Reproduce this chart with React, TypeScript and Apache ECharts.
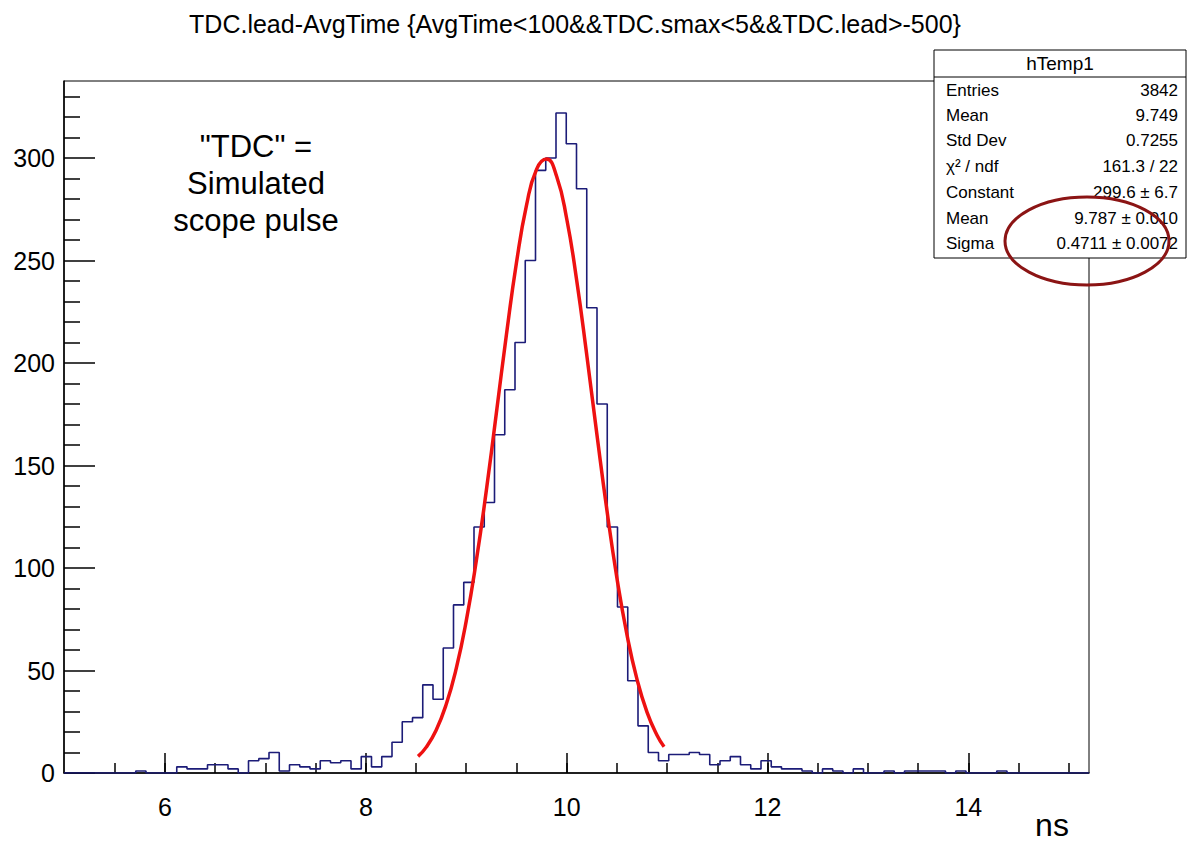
import React, { useEffect, useRef } from "react";
import * as echarts from "echarts";

// ---- data ----
const X_MIN = 4.994;
const X_MAX = 15.202;
const Y_MAX = 337.6;
const N_BINS = 100;

// histogram counts, 100 bins from X_MIN to X_MAX
const counts = [
  0, 0, 0, 0, 0, 0, 0, 1, 0, 0,
  0, 3, 2, 2, 4, 4, 2, 0, 6, 7,
  10, 1, 4, 3, 2, 6, 5, 6, 2, 8,
  3, 8, 15, 25, 27, 43, 36, 61, 82, 93,
  120, 132, 165, 187, 210, 250, 294, 300, 322, 307,
  285, 227, 180, 120, 81, 45, 23, 10, 6, 9,
  9, 10, 9, 4, 6, 8, 4, 2, 6, 3,
  2, 2, 1, 0, 2, 1, 0, 2, 0, 0,
  1, 0, 1, 1, 1, 1, 0, 1, 0, 0,
  0, 1, 0, 0, 0, 0, 0, 0, 0, 0,
];

// gaussian fit curve
const fitX = [8.52, 8.6, 8.7, 8.8, 8.9, 9.0, 9.1, 9.2, 9.3, 9.4, 9.5, 9.6, 9.7, 9.8, 9.9, 10.0, 10.1, 10.2, 10.3, 10.4, 10.5, 10.6, 10.7, 10.8, 10.9, 10.97];
const fitY = [8.1, 12.5, 20.9, 33.4, 50.9, 74.2, 103.5, 137.8, 175.6, 213.8, 248.9, 276.9, 294.5, 299.5, 291.1, 270.5, 240.3, 204.0, 165.6, 128.5, 95.3, 67.6, 45.8, 29.7, 18.4, 12.8];

const xMajorTicks = [6, 8, 10, 12, 14];
const xMinorTicks = [5.5, 6, 6.5, 7, 7.5, 8, 8.5, 9, 9.5, 10, 10.5, 11, 11.5, 12, 12.5, 13, 13.5, 14, 14.5, 15];
const yMajorTicks = [0, 50, 100, 150, 200, 250, 300];
const yMinorTicks = [10, 20, 30, 40, 60, 70, 80, 90, 110, 120, 130, 140, 160, 170, 180, 190, 210, 220, 230, 240, 260, 270, 280, 290, 310, 320, 330];

const titleText = "TDC.lead-AvgTime {AvgTime<100&&TDC.smax<5&&TDC.lead>-500}";
const statsTitle = "hTemp1";
const statsLabels = ["Entries", "Mean", "Std Dev", "χ² / ndf", "Constant", "Mean", "Sigma"];
const statsValues = ["3842", "9.749", "0.7255", "161.3 / 22", "299.6 ± 6.7", "9.787 ± 0.010", "0.4711 ± 0.0072"];
const noteLines = ['"TDC" =', "Simulated", "scope pulse"];
const xUnit = "ns";

const FONT = "'Liberation Sans', Arial, Helvetica, sans-serif";

export default function App() {
  const ref = useRef<HTMLDivElement>(null);

  useEffect(() => {
    if (!ref.current) return;
    const chart = echarts.init(ref.current, undefined, { renderer: "svg" });

    const binW = (X_MAX - X_MIN) / N_BINS;
    const histData: number[][] = counts.map((c, k) => [X_MIN + k * binW, c]);
    histData.push([X_MAX, counts[counts.length - 1]]);
    const fitData = fitX.map((x, i) => [x, fitY[i]]);

    const axisLineStyle = { color: "#000", width: 1.5 };

    const statsTop = 50;
    const statsLeft = 934;
    const statsW = 252;
    const statsH = 208;
    const rowY = [90, 115, 140, 166, 192, 218, 243];

    const graphics: any[] = [
      {
        type: "text",
        x: 575,
        y: 24,
        style: {
          text: titleText,
          font: `25px ${FONT}`,
          fill: "#000",
          textAlign: "center",
          textVerticalAlign: "middle",
        },
      },
      {
        type: "rect",
        z: 100,
        shape: { x: statsLeft, y: statsTop, width: statsW, height: statsH },
        style: { fill: "#fff", stroke: "#000", lineWidth: 1 },
      },
      {
        type: "line",
        z: 101,
        shape: { x1: statsLeft, y1: 77, x2: statsLeft + statsW, y2: 77 },
        style: { stroke: "#000", lineWidth: 1 },
      },
      {
        type: "text",
        z: 101,
        x: statsLeft + statsW / 2,
        y: 63,
        style: {
          text: statsTitle,
          font: `19px ${FONT}`,
          fill: "#000",
          textAlign: "center",
          textVerticalAlign: "middle",
        },
      },
    ];
    statsLabels.forEach((lab, i) => {
      graphics.push({
        type: "text",
        z: 101,
        x: 946,
        y: rowY[i],
        style: { text: lab, font: `17px ${FONT}`, fill: "#000", textAlign: "left", textVerticalAlign: "middle" },
      });
      graphics.push({
        type: "text",
        z: 101,
        x: 1178,
        y: rowY[i],
        style: { text: statsValues[i], font: `17px ${FONT}`, fill: "#000", textAlign: "right", textVerticalAlign: "middle" },
      });
    });
    graphics.push({
      type: "ellipse",
      z: 102,
      shape: { cx: 1087, cy: 241, rx: 82, ry: 44 },
      style: { fill: "none", stroke: "#8b1414", lineWidth: 3 },
    });
    noteLines.forEach((t, i) => {
      graphics.push({
        type: "text",
        x: 256,
        y: 146 + i * 37,
        style: { text: t, font: `31px ${FONT}`, fill: "#000", textAlign: "center", textVerticalAlign: "middle" },
      });
    });
    graphics.push({
      type: "text",
      x: 1052,
      y: 825,
      style: { text: xUnit, font: `32px ${FONT}`, fill: "#000", textAlign: "center", textVerticalAlign: "middle" },
    });

    chart.setOption({
      animation: false,
      backgroundColor: "#fff",
      grid: {
        left: 64,
        top: 81,
        right: 100,
        bottom: 72,
        show: true,
        borderColor: "#000",
        borderWidth: 1,
        backgroundColor: "transparent",
      },
      xAxis: [
        {
          type: "value",
          min: X_MIN,
          max: X_MAX,
          position: "bottom",
          axisLine: { show: true, onZero: false, lineStyle: axisLineStyle },
          axisTick: { show: true, inside: true, length: 20, customValues: xMajorTicks, lineStyle: axisLineStyle },
          axisLabel: { show: true, customValues: xMajorTicks, fontSize: 25, color: "#000", fontFamily: FONT, margin: 21 },
          splitLine: { show: false },
        },
        {
          type: "value",
          min: X_MIN,
          max: X_MAX,
          position: "bottom",
          axisLine: { show: false, onZero: false },
          axisTick: { show: true, inside: true, length: 10, customValues: xMinorTicks, lineStyle: axisLineStyle },
          axisLabel: { show: false },
          splitLine: { show: false },
        },
      ],
      yAxis: [
        {
          type: "value",
          min: 0,
          max: Y_MAX,
          position: "left",
          axisLine: { show: true, onZero: false, lineStyle: axisLineStyle },
          axisTick: { show: true, inside: true, length: 31, customValues: yMajorTicks, lineStyle: axisLineStyle },
          axisLabel: { show: true, customValues: yMajorTicks, fontSize: 25, color: "#000", fontFamily: FONT, margin: 9 },
          splitLine: { show: false },
        },
        {
          type: "value",
          min: 0,
          max: Y_MAX,
          position: "left",
          axisLine: { show: false, onZero: false },
          axisTick: { show: true, inside: true, length: 16, customValues: yMinorTicks, lineStyle: axisLineStyle },
          axisLabel: { show: false },
          splitLine: { show: false },
        },
      ],
      series: [
        {
          type: "line",
          name: "hTemp1",
          xAxisIndex: 0,
          yAxisIndex: 0,
          data: histData,
          step: "end",
          showSymbol: false,
          symbol: "none",
          lineStyle: { color: "#1c1c78", width: 1.6 },
          z: 3,
        },
        {
          type: "line",
          name: "gaus",
          xAxisIndex: 0,
          yAxisIndex: 0,
          data: fitData,
          smooth: true,
          showSymbol: false,
          symbol: "none",
          lineStyle: { color: "#ee1111", width: 3.5 },
          z: 4,
        },
      ],
      graphic: graphics,
    });

    return () => chart.dispose();
  }, []);

  return (
    <div
      ref={ref}
      style={{ position: "absolute", left: 0, top: 0, width: 1189, height: 845, background: "#fff" }}
    />
  );
}
